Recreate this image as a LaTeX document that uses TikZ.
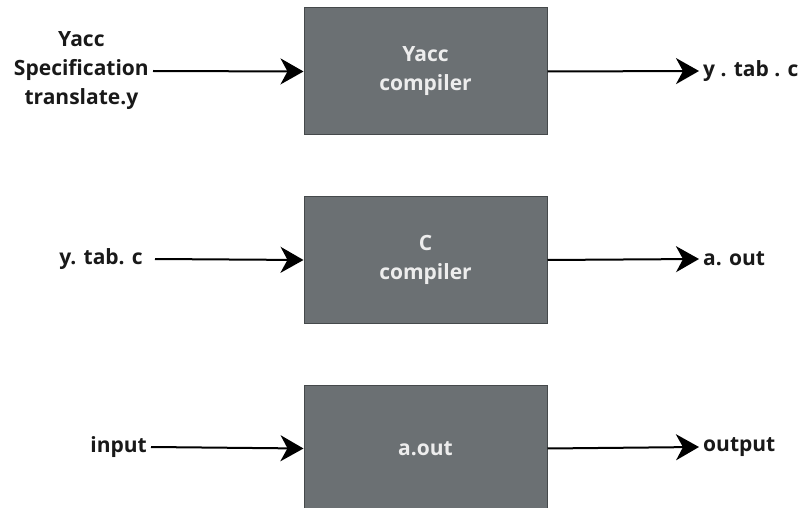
\documentclass[tikz,border=0pt]{standalone}
\usepackage{fontspec}
\setmainfont{Open Sans}
\usepackage{tikz}
\usetikzlibrary{arrows.meta}
\definecolor{boxgray}{HTML}{6B7073}
\definecolor{boxedge}{HTML}{45494B}
\definecolor{boxtext}{HTML}{EDEDED}

\begin{document}
\begin{tikzpicture}[x=1pt,y=-1pt, font=\bfseries\fontsize{21}{29}\selectfont,
  blk/.style={draw=boxedge, line width=1pt, fill=boxgray, text=boxtext,
    minimum width=243pt, minimum height=127pt, align=center, inner sep=0pt},
  lbl/.style={align=center, inner sep=4pt, text=black!90},
  flow/.style={line width=2pt, -{Stealth[length=23pt,width=26pt,inset=7pt]}}]
 \clip (0,0) rectangle (804,508);
 % three stages
 \node[blk] (yacc) at (425.5,71.5) {Yacc\\compiler};
 \node[blk] (cc) at (425.5,260) {C\\compiler};
 \node[blk] (run) at (425.5,448.5) {a.out};
 % inputs
 \node[lbl, anchor=east] (spec) at (153,71) {Yacc\\Specification\\translate.y};
 \node[lbl, anchor=east] (ytab) at (147,259) {y. tab. c};
 \node[lbl, anchor=east] (inp) at (151,447) {input};
 % outputs
 \node[lbl, anchor=west] (ytabout) at (699,71) {y . tab . c};
 \node[lbl, anchor=west] (aout) at (699,259) {a. out};
 \node[lbl, anchor=west] (outp) at (699,447) {output};
 \draw[flow] (spec.east) -- (yacc.west);
 \draw[flow] (ytab.east) ++(8,0) -- (cc.west);
 \draw[flow] (inp.east) -- (run.west);
 \draw[flow] (yacc.east) -- (ytabout.west);
 \draw[flow] (cc.east) -- (aout.west);
 \draw[flow] (run.east) -- (outp.west);
\end{tikzpicture}
\end{document}
